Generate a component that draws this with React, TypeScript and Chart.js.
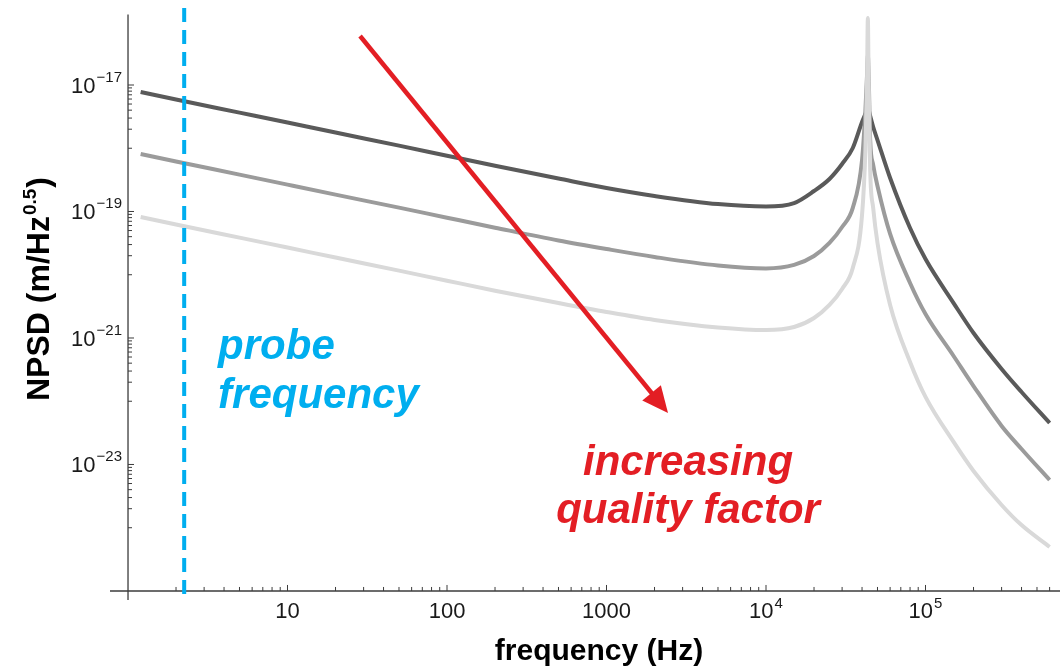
import React, { useEffect, useRef } from 'react';
import { Chart, registerables } from 'chart.js';

Chart.register(...registerables);

// ---------- data ----------
const FREQ_HZ = [
  1.2, 2, 5, 10, 20, 50, 100, 200, 500, 1000, 2000, 5000,
  1e4, 1.5e4, 2e4, 2.5e4, 3e4, 3.5e4, 4e4, 4.2e4, 4.3e4, 4.35e4, 4.4e4, 4.5e4, 4.7e4, 5e4,
  6e4, 8e4, 1e5, 1.5e5, 2e5, 3e5, 4e5, 6e5,
];

// low quality factor (dark)
const NPSD_LOW_Q = [
  7.75e-18, 5.9e-18, 3.66e-18, 2.55e-18, 1.77e-18, 1.1e-18, 7.63e-19, 5.3e-19, 3.32e-19, 2.35e-19, 1.76e-19, 1.31e-19,
  1.2e-19, 1.36e-19, 2.11e-19, 3.27e-19, 5.64e-19, 1.01e-18, 2.6e-18, 3.48e-18, 4.03e-18, 4.33e-18, 4.03e-18, 3.24e-18, 2.17e-18, 1.35e-18,
  3.39e-19, 5.48e-20, 1.77e-20, 3.57e-21, 1.2e-21, 3.24e-22, 1.4e-22, 4.53e-23,
];

// medium quality factor (mid grey)
const NPSD_MID_Q = [
  8.11e-19, 6.18e-19, 3.83e-19, 2.66e-19, 1.85e-19, 1.15e-19, 7.98e-20, 5.55e-20, 3.48e-20, 2.55e-20, 1.91e-20, 1.4e-20,
  1.26e-20, 1.43e-20, 1.98e-20, 3.18e-20, 5.69e-20, 1.14e-19, 6.5e-19, 4.0e-18, 1.44e-17, 2.98e-17, 1.44e-17, 1.35e-18, 5.43e-19, 2.53e-19,
  4.41e-20, 7.41e-21, 2.39e-21, 5.19e-22, 1.74e-22, 4.07e-23, 1.76e-23, 5.69e-24,
];

// high quality factor (light grey)
const NPSD_HIGH_Q = [
  8.18e-20, 6.23e-20, 3.86e-20, 2.69e-20, 1.87e-20, 1.16e-20, 8.05e-21, 5.6e-21, 3.57e-21, 2.58e-21, 1.93e-21, 1.47e-21,
  1.34e-21, 1.49e-21, 2.07e-21, 3.33e-21, 5.96e-21, 1.28e-20, 8.8e-20, 9.4e-19, 1.2e-17, 1.15e-16, 1.2e-17, 4.5e-19, 1.13e-19, 3.18e-20,
  3.33e-21, 4.18e-22, 1.17e-22, 2.27e-23, 7.89e-24, 2.29e-24, 1.1e-24, 4.96e-25,
];

const PROBE_FREQ = 2.25;

const ARROW_FREQ = [28.5, 2430];
const ARROW_NPSD = [5.96e-17, 6.5e-23];

const X_TICK_VALUES = [10, 100, 1000, 1e4, 1e5];
const X_TICK_LABELS = ['10', '100', '1000', '10^4', '10^5'];
const Y_TICK_VALUES = [1e-17, 1e-19, 1e-21, 1e-23];
const Y_TICK_LABELS = ['10^\u221217', '10^\u221219', '10^\u221221', '10^\u221223'];

const X_MIN = 0.771;
const X_MAX = 6.97e5;
const Y_MIN = 0.72e-25;
const Y_MAX = 1.65e-16;
const AXIS_CROSS_FREQ = 1;
const AXIS_CROSS_NPSD = 1e-25;
const Y_AXIS_TOP = 1.3e-16;

const PROBE_TEXT = ['probe', 'frequency'];
const PROBE_TEXT_AT = { f: 3.67, v: 4.66e-22 };
const Q_TEXT = ['increasing', 'quality factor'];
const Q_TEXT_AT = { f: 3245, v: 6.82e-24 };

const X_TITLE = 'frequency (Hz)';
const Y_TITLE = ['NPSD (m/Hz', '0.5', ')'];

// ---------- styling ----------
const FAMILY = "'Liberation Sans', Arial, Helvetica, sans-serif";
const BLUE = 'rgb(0,174,239)';
const RED = 'rgb(227,30,36)';
const AXIS_COLOR = '#3c3c3c';

function drawRich(
  ctx: CanvasRenderingContext2D,
  base: string,
  exp: string | null,
  x: number,
  baseline: number,
  align: 'right' | 'center',
  baseFont: string,
  expFont: string,
  expRise: number,
) {
  ctx.font = baseFont;
  const wb = ctx.measureText(base).width;
  let we = 0;
  if (exp) {
    ctx.font = expFont;
    we = ctx.measureText(exp).width + 1;
  }
  const total = wb + we;
  const start = align === 'right' ? x - total : x - total / 2;
  ctx.textAlign = 'left';
  ctx.textBaseline = 'alphabetic';
  ctx.font = baseFont;
  ctx.fillText(base, start, baseline);
  if (exp) {
    ctx.font = expFont;
    ctx.fillText(exp, start + wb + 1, baseline - expRise);
  }
}

const decorPlugin = {
  id: 'decor',
  beforeDatasetsDraw(chart: any) {
    const { ctx, chartArea } = chart;
    const xs = chart.scales.x;
    const ys = chart.scales.y;
    const ax = xs.getPixelForValue(AXIS_CROSS_FREQ);
    const ay = ys.getPixelForValue(AXIS_CROSS_NPSD);
    ctx.save();
    ctx.strokeStyle = AXIS_COLOR;
    ctx.lineWidth = 1.3;
    ctx.beginPath();
    ctx.moveTo(chartArea.left, ay);
    ctx.lineTo(chartArea.right, ay);
    ctx.moveTo(ax, ys.getPixelForValue(Y_AXIS_TOP));
    ctx.lineTo(ax, chartArea.bottom);
    ctx.stroke();

    // x ticks (inside, pointing up)
    ctx.lineWidth = 1;
    ctx.beginPath();
    for (let n = 0; n <= 6; n++) {
      for (let j = 1; j <= 9; j++) {
        const v = j * Math.pow(10, n);
        if (v <= AXIS_CROSS_FREQ || v > X_MAX) continue;
        const px = xs.getPixelForValue(v);
        const len = j === 1 ? 6 : 4;
        ctx.moveTo(px, ay);
        ctx.lineTo(px, ay - len);
      }
    }
    // y ticks (inside, pointing right)
    for (const m of Y_TICK_VALUES) {
      const py = ys.getPixelForValue(m);
      ctx.moveTo(ax, py);
      ctx.lineTo(ax + 6, py);
      for (let j = 1; j <= 9; j++) {
        const v = (j * m) / 10;
        const p = ys.getPixelForValue(v);
        ctx.moveTo(ax, p);
        ctx.lineTo(ax + 4, p);
      }
    }
    ctx.stroke();

    // tick labels
    ctx.fillStyle = '#1a1a1a';
    const baseFont = `22px ${FAMILY}`;
    const expFont = `15px ${FAMILY}`;
    X_TICK_VALUES.forEach((v, i) => {
      const [b, e] = X_TICK_LABELS[i].split('^');
      drawRich(ctx, b, e ?? null, xs.getPixelForValue(v), ay + 27, 'center', baseFont, expFont, 10);
    });
    Y_TICK_VALUES.forEach((v, i) => {
      const [b, e] = Y_TICK_LABELS[i].split('^');
      drawRich(ctx, b, e ?? null, ax - 6, ys.getPixelForValue(v) + 8, 'right', baseFont, expFont, 11);
    });

    // axis titles
    ctx.fillStyle = '#000';
    ctx.font = `bold 30px ${FAMILY}`;
    ctx.textAlign = 'center';
    ctx.textBaseline = 'alphabetic';
    ctx.fillText(X_TITLE, (chartArea.left + chartArea.right) / 2 + 14, 660);

    ctx.save();
    ctx.translate(49, 289);
    ctx.rotate(-Math.PI / 2);
    const f1 = `bold 32px ${FAMILY}`;
    const f2 = `bold 19px ${FAMILY}`;
    ctx.font = f1;
    const w1 = ctx.measureText(Y_TITLE[0]).width;
    const w3 = ctx.measureText(Y_TITLE[2]).width;
    ctx.font = f2;
    const w2 = ctx.measureText(Y_TITLE[1]).width;
    const tot = w1 + w2 + w3 + 2;
    let cx = -tot / 2;
    ctx.textAlign = 'left';
    ctx.font = f1;
    ctx.fillText(Y_TITLE[0], cx, 0);
    cx += w1 + 1;
    ctx.font = f2;
    ctx.fillText(Y_TITLE[1], cx, -13);
    cx += w2 + 1;
    ctx.font = f1;
    ctx.fillText(Y_TITLE[2], cx, 0);
    ctx.restore();

    ctx.restore();
  },
  afterDatasetsDraw(chart: any) {
    const { ctx } = chart;
    const xs = chart.scales.x;
    const ys = chart.scales.y;
    ctx.save();
    // arrow
    const sx = xs.getPixelForValue(ARROW_FREQ[0]);
    const sy = ys.getPixelForValue(ARROW_NPSD[0]);
    const tx = xs.getPixelForValue(ARROW_FREQ[1]);
    const ty = ys.getPixelForValue(ARROW_NPSD[1]);
    const dx = tx - sx;
    const dy = ty - sy;
    const len = Math.hypot(dx, dy);
    const ux = dx / len;
    const uy = dy / len;
    const headLen = 26;
    const headHalf = 12;
    const bx = tx - ux * headLen;
    const by = ty - uy * headLen;
    ctx.strokeStyle = RED;
    ctx.fillStyle = RED;
    ctx.lineWidth = 4.5;
    ctx.beginPath();
    ctx.moveTo(sx, sy);
    ctx.lineTo(bx + ux * 3, by + uy * 3);
    ctx.stroke();
    ctx.beginPath();
    ctx.moveTo(tx, ty);
    ctx.lineTo(bx - uy * headHalf, by + ux * headHalf);
    ctx.lineTo(bx + uy * headHalf, by - ux * headHalf);
    ctx.closePath();
    ctx.fill();

    // annotations
    ctx.font = `italic bold 42px ${FAMILY}`;
    ctx.textBaseline = 'alphabetic';
    ctx.fillStyle = BLUE;
    ctx.textAlign = 'left';
    const px = xs.getPixelForValue(PROBE_TEXT_AT.f);
    const py = ys.getPixelForValue(PROBE_TEXT_AT.v);
    PROBE_TEXT.forEach((t, i) => ctx.fillText(t, px, py + i * 49));
    ctx.fillStyle = RED;
    ctx.textAlign = 'center';
    const qx = xs.getPixelForValue(Q_TEXT_AT.f);
    const qy = ys.getPixelForValue(Q_TEXT_AT.v);
    Q_TEXT.forEach((t, i) => ctx.fillText(t, qx, qy + i * 48));
    ctx.restore();
  },
};

function series(values: number[]) {
  return FREQ_HZ.map((f, i) => ({ x: f, y: values[i] }));
}

export default function App() {
  const ref = useRef<HTMLCanvasElement | null>(null);
  useEffect(() => {
    if (!ref.current) return;
    const curve = (label: string, values: number[], color: string, order: number) => ({
      label,
      data: series(values),
      borderColor: color,
      backgroundColor: color,
      borderWidth: 4,
      pointRadius: 0,
      fill: false,
      cubicInterpolationMode: 'monotone' as const,
      borderJoinStyle: 'round' as const,
      order,
    });
    const chart = new Chart(ref.current, {
      type: 'line',
      data: {
        datasets: [
          {
            label: 'probe frequency',
            data: [
              { x: PROBE_FREQ, y: Y_MAX },
              { x: PROBE_FREQ, y: Y_MIN },
            ],
            borderColor: BLUE,
            borderWidth: 4,
            borderDash: [14, 8],
            pointRadius: 0,
            tension: 0,
            fill: false,
            order: 0,
          },
          curve('high Q', NPSD_HIGH_Q, '#d9d9d9', 1),
          curve('mid Q', NPSD_MID_Q, '#9b9b9b', 2),
          curve('low Q', NPSD_LOW_Q, '#5a5a5a', 3),
        ],
      },
      options: {
        animation: false,
        responsive: false,
        maintainAspectRatio: false,
        events: [],
        layout: { padding: { left: 110, right: 3, top: 8, bottom: 69 } },
        plugins: { legend: { display: false }, tooltip: { enabled: false } },
        elements: { point: { radius: 0 } },
        scales: {
          x: { type: 'logarithmic', min: X_MIN, max: X_MAX, bounds: 'data', display: false },
          y: { type: 'logarithmic', min: Y_MIN, max: Y_MAX, bounds: 'data', display: false },
        },
      },
      plugins: [decorPlugin],
    } as any);
    return () => chart.destroy();
  }, []);
  return (
    <div style={{ position: 'absolute', left: 0, top: 0, width: 1063, height: 669, background: '#fff' }}>
      <canvas ref={ref} width={1063} height={669} style={{ display: 'block', width: 1063, height: 669 }} />
    </div>
  );
}
